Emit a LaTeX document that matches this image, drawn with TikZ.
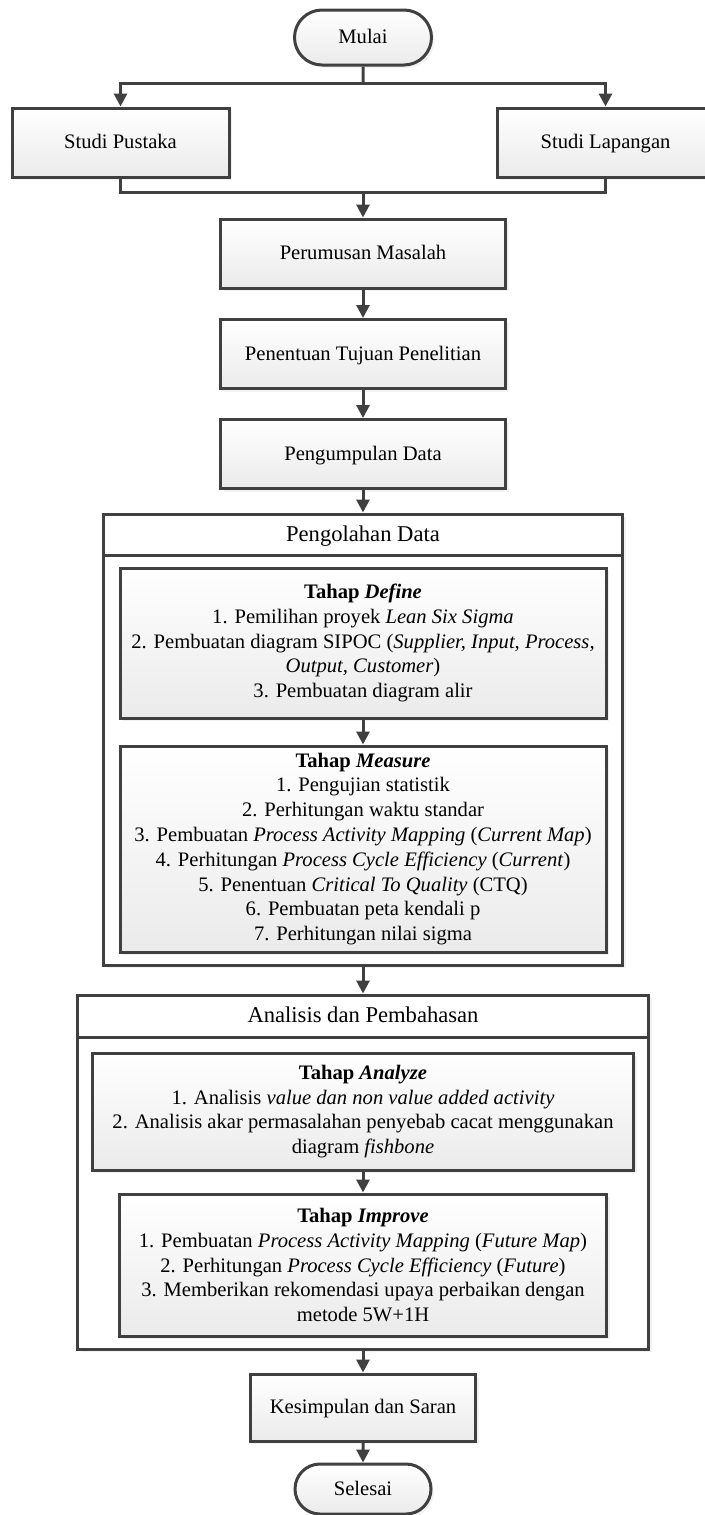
\documentclass[tikz,border=0pt]{standalone}
\usepackage{fontspec}
\setmainfont{Liberation Serif}
\usetikzlibrary{arrows.meta,shapes.misc,shadows}
\definecolor{edge}{HTML}{404040}

\begin{document}
\begin{tikzpicture}[x=1pt,y=-1pt,
    font=\fontsize{20.6}{24.8}\selectfont,
    box/.style={draw=edge,line width=3pt,top color=white,bottom color=black!8,
      drop shadow={shadow xshift=3pt,shadow yshift=-3pt,fill=black!10},
      align=center,inner sep=0pt},
    oneline/.style={text height=16pt,text depth=3.5pt},
    term/.style={box,oneline,rounded rectangle,minimum width=137,minimum height=55},
    proc/.style={box,oneline,minimum width=285,minimum height=69},
    group/.style={draw=edge,line width=3pt,fill=white,
      drop shadow={shadow xshift=3pt,shadow yshift=-3pt,fill=black!10}},
    grouphead/.style={draw=edge,line width=3pt,inner sep=0pt,
      font=\fontsize{22.6}{26}\selectfont,text height=17pt,text depth=4pt},
    line/.style={draw=edge,line width=3pt},
    arr/.style={line,-{Triangle[length=13pt,width=13pt]}}]

      \useasboundingbox (0,0) rectangle (704,1515);

      \node[term] (mulai) at (363,37.5) {Mulai};

      \begin{scope}[every node/.style={proc}]
        \node[minimum width=217] (pustaka)  at (120.5,142.5) {Studi Pustaka};
        \node[minimum width=217] (lapangan) at (605.5,142.5) {Studi Lapangan};
        \node (rumus)  at (363,253.5) {Perumusan Masalah};
        \node (tujuan) at (363,354)   {Penentuan Tujuan Penelitian};
        \node (kumpul) at (363,454)   {Pengumpulan Data};
      \end{scope}

      \node[group,minimum width=519,minimum height=451] (olah) at (363,739.5) {};
      \node[grouphead,minimum width=519,minimum height=41,anchor=north] (olahH) at (olah.north) {Pengolahan Data};

      \node[box,minimum width=486,minimum height=150] (define) at (363,643) {\textbf{Tahap \textit{Define}}\\
        1. Pemilihan proyek \textit{Lean Six Sigma}\\
        2. Pembuatan diagram SIPOC (\textit{Supplier, Input, Process,}\\
        \textit{Output, Customer})\\
        3. Pembuatan diagram alir};
      \node[box,minimum width=486,minimum height=206] (measure) at (363,849) {\textbf{Tahap \textit{Measure}}\\
        1. Pengujian statistik\\
        2. Perhitungan waktu standar\\
        3. Pembuatan \textit{Process Activity Mapping} (\textit{Current Map})\\
        4. Perhitungan \textit{Process Cycle Efficiency} (\textit{Current})\\
        5. Penentuan \textit{Critical To Quality} (CTQ)\\
        6. Pembuatan peta kendali p\\
        7. Perhitungan nilai sigma};

      \node[group,minimum width=571,minimum height=354] (analisis) at (363,1172) {};
      \node[grouphead,minimum width=571,minimum height=42,anchor=north] (analisisH) at (analisis.north) {Analisis dan Pembahasan};

      \node[box,minimum width=541,minimum height=117] (analyze) at (363,1111.5) {\textbf{Tahap \textit{Analyze}}\\
        1. Analisis \textit{value dan non value added activity}\\
        2. Analisis akar permasalahan penyebab cacat menggunakan\\
        diagram \textit{fishbone}};
      \node[box,minimum width=487,minimum height=142] (improve) at (363,1265) {\textbf{Tahap \textit{Improve}}\\
        1. Pembuatan \textit{Process Activity Mapping} (\textit{Future Map})\\
        2. Perhitungan \textit{Process Cycle Efficiency} (\textit{Future})\\
        3. Memberikan rekomendasi upaya perbaikan dengan\\
        metode 5W+1H};

      \node[proc,minimum width=225,minimum height=67] (simpul) at (363,1407.5) {Kesimpulan dan Saran};
      \node[term,minimum width=136,minimum height=50] (selesai) at (363,1489) {Selesai};

      \coordinate (split) at (363,83);
      \coordinate (merge) at (363,192);

      \draw[line] (mulai) -- (split);
      \draw[arr] (split) -| (pustaka);
      \draw[arr] (split) -| (lapangan);
      \draw[line] (pustaka) |- (merge);
      \draw[line] (lapangan) |- (merge);
      \draw[arr] (merge) -- (rumus);
      \draw[arr] (rumus) -- (tujuan);
      \draw[arr] (tujuan) -- (kumpul);
      \draw[arr] (kumpul) -- (olah);
      \draw[arr] (define) -- (measure);
      \draw[arr] (olah) -- (analisis);
      \draw[arr] (analyze) -- (improve);
      \draw[arr] (analisis) -- (simpul);
      \draw[arr] (simpul) -- (selesai);

    \end{tikzpicture}
\end{document}
